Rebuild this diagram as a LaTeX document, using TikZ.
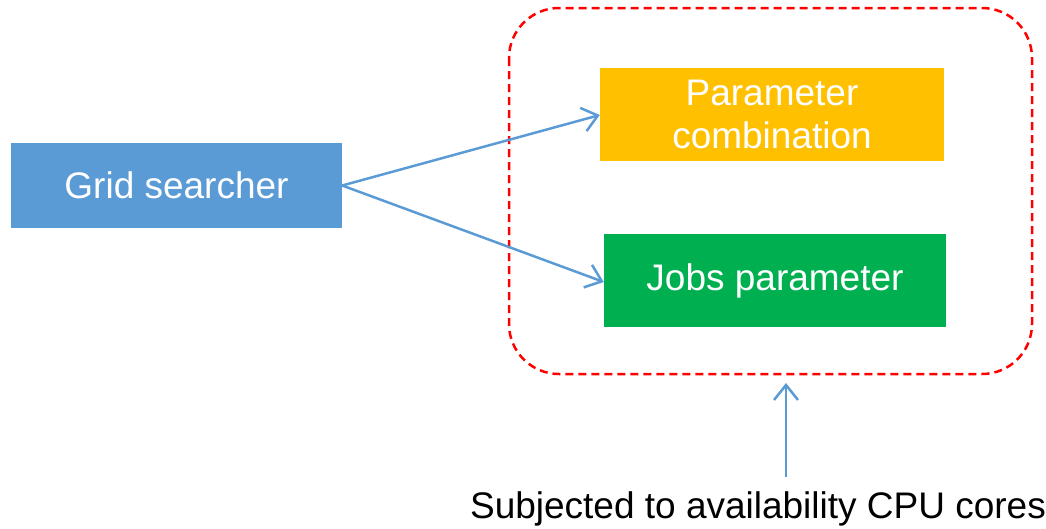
\documentclass[tikz,border=0pt]{standalone}
\usepackage{fontspec}
\setmainfont{Liberation Sans}
\usetikzlibrary{arrows.meta}
\definecolor{boxblue}{HTML}{5B9BD5}
\definecolor{boxorange}{HTML}{FFC000}
\definecolor{boxgreen}{HTML}{00B050}
\definecolor{linkblue}{HTML}{5B9BD5}
\begin{document}
\begin{tikzpicture}[x=1pt,y=-1pt,
  block/.style={fill=#1, text=white, align=center, inner sep=0pt,
    font=\fontsize{37}{43}\selectfont},
  link/.style={draw=linkblue, line width=2.5pt,
    -{Straight Barb[length=15pt,width=24pt,line width=2.5pt]}},
  group/.style={draw=red, line width=2.5pt, dash pattern=on 8pt off 5pt,
    rounded corners=50pt}]
  \useasboundingbox (0,0) rectangle (1046,528);
  % dashed container
  \draw[group] (509,8) rectangle (1032,374);
  % blocks
  \node[block=boxblue, minimum width=331pt, minimum height=85pt] (grid) at (176.5,185.5) {Grid searcher};
  \node[block=boxorange, minimum width=344pt, minimum height=93pt] (combo) at (772,114.5) {Parameter\\combination};
  \node[block=boxgreen, minimum width=342pt, minimum height=93pt] (jobs) at (775,280.5) {Jobs parameter};
  % caption below
  \node[inner sep=0pt, font=\fontsize{37}{43}\selectfont, anchor=base] (note) at (758,518) {Subjected to availability CPU cores};
  \coordinate (top) at (786,383);
  \coordinate (noteTop) at (786,477);
  % connectors
  \draw[link] (grid.east) -- (combo.west |- 0,115);
  \draw[link] (grid.east) -- (jobs.west |- 0,282);
  \draw[link] (noteTop) -- (top);
\end{tikzpicture}
\end{document}
